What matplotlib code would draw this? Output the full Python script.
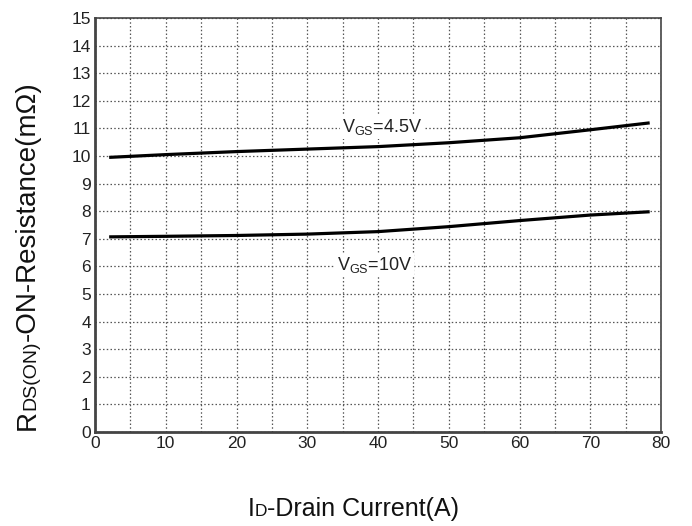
import matplotlib.pyplot as plt
import numpy as np

plt.rcParams['font.family'] = ['Liberation Sans', 'DejaVu Sans']

# Curvas
id_a = [2, 10, 20, 30, 40, 50, 60, 70, 78.4]
r_45v = [9.95, 10.05, 10.16, 10.25, 10.34, 10.48, 10.66, 10.95, 11.2]
r_10v = [7.07, 7.09, 7.12, 7.17, 7.26, 7.44, 7.66, 7.86, 7.98]

x_ticks = [0, 10, 20, 30, 40, 50, 60, 70, 80]
y_ticks = list(range(0, 16))

fig = plt.figure(figsize=(6.92, 5.26), dpi=100)
ax = fig.add_axes([0.1373, 0.1787, 0.8179, 0.7871])

ax.plot(id_a, r_45v, color='black', lw=2.3, solid_capstyle='butt')
ax.plot(id_a, r_10v, color='black', lw=2.3, solid_capstyle='butt')

ax.set_xlim(0, 80)
ax.set_ylim(0, 15)
ax.set_xticks(x_ticks)
ax.set_yticks(y_ticks)
ax.set_xticks(np.arange(0, 81, 5), minor=True)
ax.grid(True, which='both', axis='x', ls=(0, (1.2, 1.8)), color='#555555', lw=0.9)
ax.grid(True, which='major', axis='y', ls=(0, (1.2, 1.8)), color='#555555', lw=0.9)
ax.tick_params(which='both', length=0, labelsize=12.5, labelcolor='#222222', pad=3)

for s in ['left', 'bottom']:
    ax.spines[s].set_linewidth(2)
    ax.spines[s].set_color('#444444')
for s in ['top', 'right']:
    ax.spines[s].set_linewidth(1.2)
    ax.spines[s].set_color('#444444')

# Rótulos das curvas com fundo branco
ax.text(34.9, 10.87, r'V$_{\mathregular{GS}}$=4.5V', fontsize=13, color='#222222',
        va='baseline', bbox=dict(facecolor='white', edgecolor='none', pad=1.5))
ax.text(34.2, 5.87, r'V$_{\mathregular{GS}}$=10V', fontsize=13, color='#222222',
        va='baseline', bbox=dict(facecolor='white', edgecolor='none', pad=1.5))

# Rótulos dos eixos montados em pedaços (subscrito na linha de base)
fig.canvas.draw()
renderer = fig.canvas.get_renderer()

def texto_composto(x0, y0, partes, rotation):
    pos = fig.transFigure.transform((x0, y0))
    for txt, size in partes:
        t = fig.text(0, 0, txt, fontsize=size, color='#111111', rotation=rotation,
                     ha='left', va='baseline', rotation_mode='anchor')
        t.set_position(fig.transFigure.inverted().transform(pos))
        bb = t.get_window_extent(renderer)
        if rotation == 90:
            pos = (pos[0], pos[1] + bb.height)
        else:
            pos = (pos[0] + bb.width, pos[1])

texto_composto(0.0506, 0.1825, [('R', 20), ('DS(ON)', 14), ('-ON-Resistance(mΩ)', 20)], 90)
texto_composto(0.358, 0.019, [('I', 18), ('D', 12.5), ('-Drain Current(A)', 18)], 0)

fig.savefig('out.png', dpi=100)
